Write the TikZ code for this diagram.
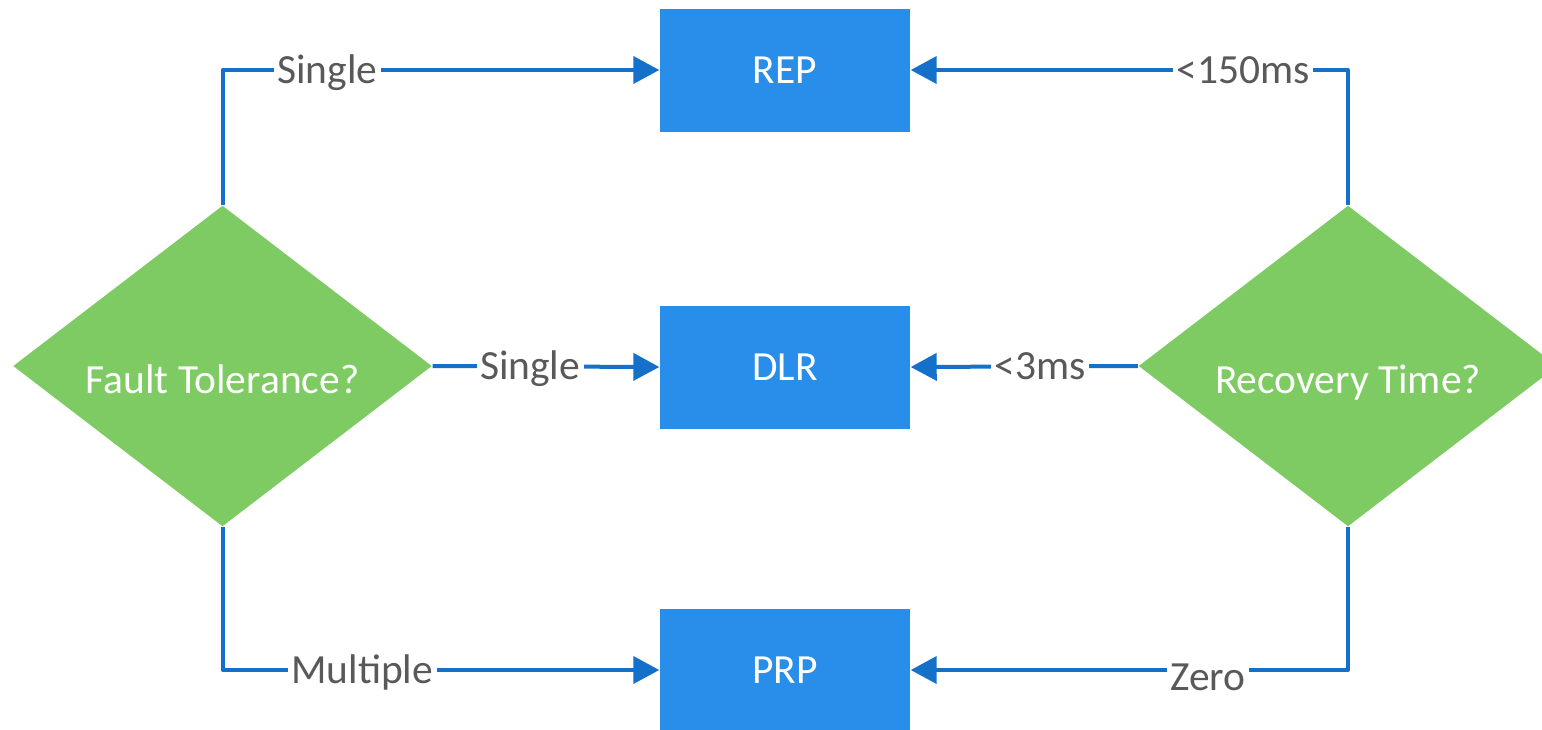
\documentclass[tikz,border=0pt]{standalone}
\usepackage{fontspec}
\setmainfont{Carlito}
\usetikzlibrary{shapes.geometric,arrows.meta}
\definecolor{linkblue}{RGB}{20,112,200}
\definecolor{boxblue}{RGB}{41,141,234}
\definecolor{decgreen}{RGB}{126,203,99}
\definecolor{labelgrey}{RGB}{89,89,89}
\begin{document}
\begin{tikzpicture}[
  font=\fontsize{11.8}{14}\selectfont,
  proto/.style={rectangle,fill=boxblue,text=white,minimum width=2.5cm,minimum height=1.23cm,inner sep=0pt},
  decision/.style={diamond,aspect=1.3,fill=decgreen,text=white,minimum width=4.19cm,minimum height=3.21cm,inner sep=0pt,text height=0.64cm,text depth=0.1cm},
  link/.style={draw=linkblue,line width=0.04cm,line join=round,-{Triangle[length=0.26cm,width=0.27cm]}},
  lbl/.style={fill=white,text=labelgrey,inner sep=1pt,text height=0.27cm,text depth=0pt}]
\useasboundingbox (0,0) rectangle (15.42,7.29);
\node[proto] (rep) at (7.85,6.59) {REP};
\node[proto] (dlr) at (7.85,3.62) {DLR};
\node[proto] (prp) at (7.85,0.59) {PRP};
\node[decision] (fault) at (2.225,3.63) {Fault Tolerance?};
\node[decision] (recov) at (13.48,3.63) {Recovery Time?};
\draw[link] (fault.north) |- node[lbl,pos=0.62] {Single} (rep.west);
\draw[link] (fault.east) -- node[lbl,pos=0.43] {Single} (dlr.west);
\draw[link] (fault.south) |- node[lbl,pos=0.66] {Multiple} (prp.west);
\draw[link] (recov.north) |- node[lbl,pos=0.62] {<150ms} (rep.east);
\draw[link] (recov.west) -- node[lbl,pos=0.43] {<3ms} (dlr.east);
\draw[link] (recov.south) |- node[lbl,pos=0.66,yshift=-0.07cm] {Zero} (prp.east);
\end{tikzpicture}
\end{document}
